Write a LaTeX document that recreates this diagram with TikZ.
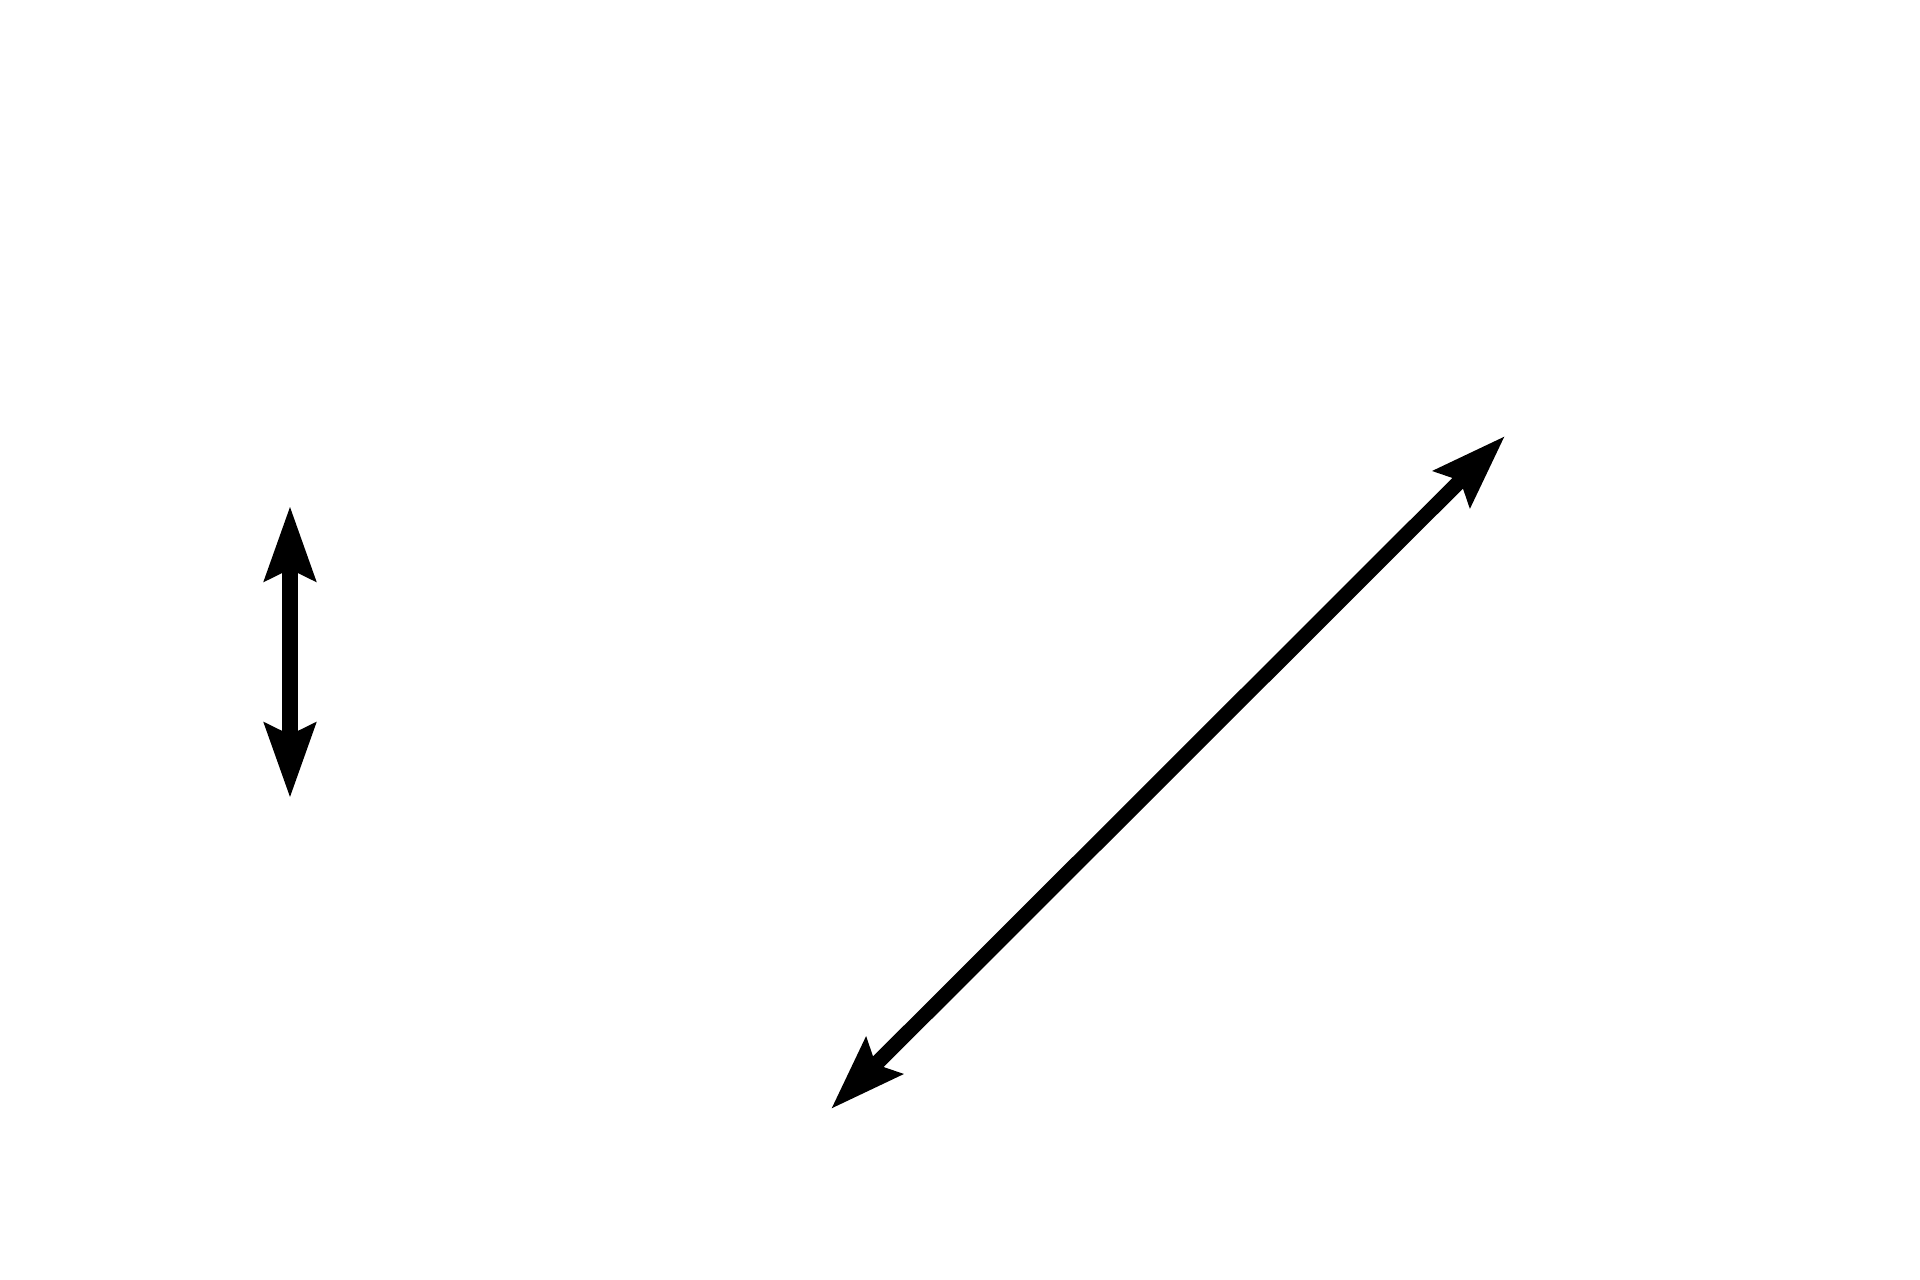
\documentclass[tikz,border=0pt]{standalone}
\usetikzlibrary{arrows.meta}
\begin{document}
\begin{tikzpicture}[x=0.01cm,y=-0.01cm,
  dblarrow/.style={line width=0.15cm,{Stealth[length=0.74cm,width=0.50cm,inset=0.11cm]}-{Stealth[length=0.74cm,width=0.50cm,inset=0.11cm]}}]
\useasboundingbox[fill=white] (0,0) rectangle (1920,1280);
\coordinate (vtop) at (290,506);
\coordinate (vbot) at (290,798);
\coordinate (dlow) at (831,1109);
\coordinate (dhigh) at (1505,436);
\draw[dblarrow] (vbot) -- (vtop);
\draw[dblarrow] (dlow) -- (dhigh);
\end{tikzpicture}
\end{document}
